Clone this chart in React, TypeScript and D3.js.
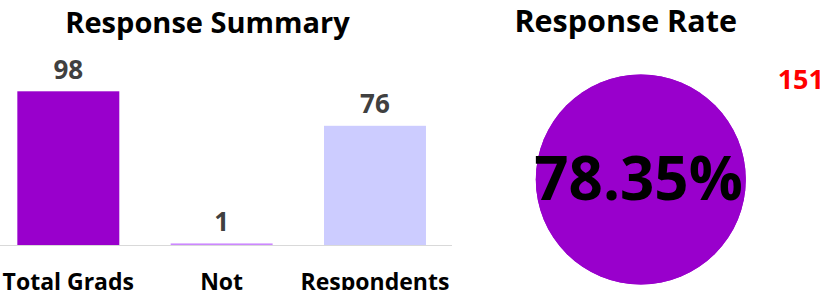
import React from 'react';
import * as d3 from 'd3';

const categories = ['Total Grads', 'Not', 'Respondents'];
const counts = [98, 1, 76];
const barColors = ['#9900cc', '#cc88ff', '#ccccff'];
const invited = 151;

const W = 829;
const H = 290;
const FONT = '"Open Sans", Lato, sans-serif';

export default function App() {
  const x = d3.scaleBand<string>()
    .domain(categories)
    .range([2, 441.3])
    .paddingInner(0.335)
    .paddingOuter(0.1);

  const y = d3.scaleLinear()
    .domain([0, 98])
    .range([245, 91.3]);

  // response rate = respondents / (total - not)
  const rate = counts[2] / (counts[0] - counts[1]);
  const pie = d3.pie<number>().sort(null)([rate, 0]);
  const arc = d3.arc<d3.PieArcDatum<number>>().innerRadius(0).outerRadius(105);

  return (
    <div style={{ position: 'absolute', left: 0, top: 0 }}>
      <svg width={W} height={H} style={{ display: 'block' }} fontFamily={FONT} fontWeight="bold">
        <text x={207.5} y={33.3} textAnchor="middle" fontSize={29} fill="#000">Response Summary</text>

        <line x1={0} x2={452} y1={245.5} y2={245.5} stroke="#d9d9d9" strokeWidth={1} />

        {categories.map((c, i) => {
          const top = y(counts[i]);
          const h = Math.max(1.5, 245 - top);
          return (
            <g key={c}>
              <rect x={x(c)} y={245 - h} width={x.bandwidth()} height={h} fill={barColors[i]} />
              <text
                x={x(c)! + x.bandwidth() / 2}
                y={top - 12.5}
                textAnchor="middle"
                fontSize={26}
                fill="#404040"
              >
                {counts[i]}
              </text>
              <text
                x={x(c)! + x.bandwidth() / 2}
                y={290}
                textAnchor="middle"
                fontSize={23}
                fill="#000"
              >
                {c}
              </text>
            </g>
          );
        })}

        <text x={625.7} y={31.7} textAnchor="middle" fontSize={30.5} fill="#000">Response Rate</text>

        <g transform="translate(640.8,179.5)">
          {pie.map((d, i) => (
            <path key={i} d={arc(d)!} fill="#9900cc" />
          ))}
          <circle r={105} fill="#9900cc" />
          <text x={-2.3} y={20.5} textAnchor="middle" fontSize={60} fill="#000">
            {d3.format('.2%')(rate)}
          </text>
        </g>

        <text x={824} y={88.5} textAnchor="end" fontSize={27} fill="#ff0000">{invited}</text>
      </svg>
    </div>
  );
}
